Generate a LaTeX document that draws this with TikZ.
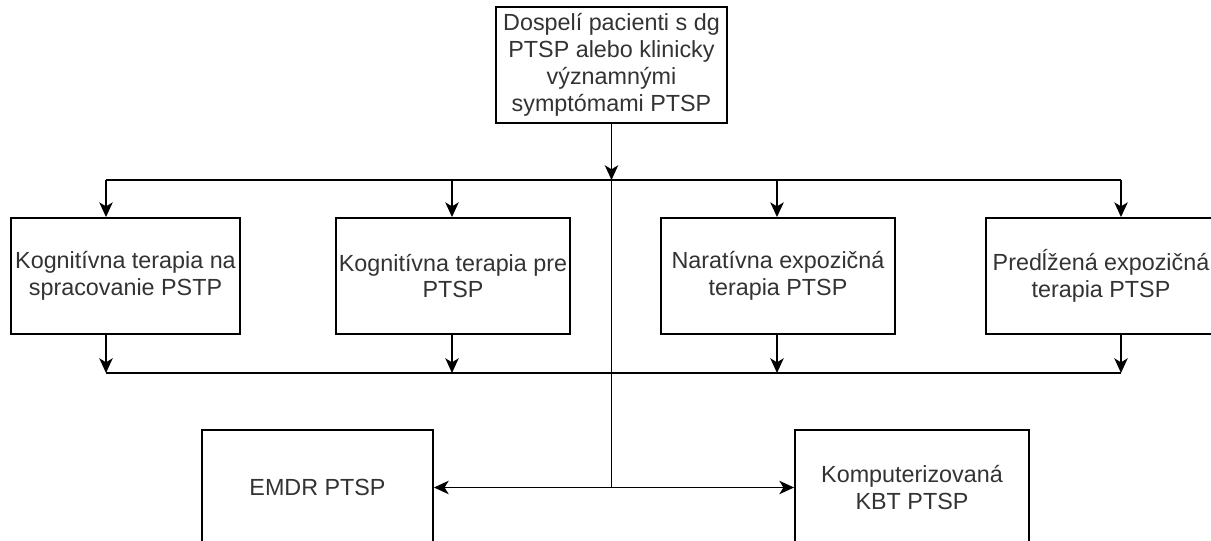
\documentclass[tikz,border=0pt]{standalone}
\usepackage{fontspec}
\setmainfont{Liberation Sans}
\usetikzlibrary{arrows.meta}
\tikzset{
  box/.style={draw=black, line width=1.4pt, fill=white, rectangle, align=center, inner sep=1pt,
    text=black!80, font=\fontsize{17.5}{20.2}\selectfont},
  tip/.tip={Stealth[length=11pt,width=10pt,inset=3pt]},
  arr/.style={line width=1.4pt, -tip},
  dbl/.style={line width=1.4pt, tip-tip},
  ln/.style={line width=1.4pt}
}
\begin{document}
\begin{tikzpicture}[x=0.75pt,y=-0.75pt]
\clip (0,0) rectangle (1211,541);
\fill[white] (0,0) rectangle (1211,541);
% nodes
\node[box, minimum width=173.25pt, minimum height=87pt] (top) at (611.5,65)
  {Dospelí pacienti s dg\\PTSP alebo klinicky\\významnými\\symptómami PTSP};
\node[box, minimum width=171.75pt, minimum height=87pt] (b1) at (125.5,276)
  {Kognitívna terapia na\\spracovanie PSTP};
\node[box, minimum width=175.5pt, minimum height=87pt] (b2) at (453,276)
  {Kognitívna terapia pre\\PTSP};
\node[box, minimum width=175.5pt, minimum height=87pt] (b3) at (778,276)
  {Naratívna expozičná\\terapia PTSP};
\node[box, minimum width=172.5pt, minimum height=87pt] (b4) at (1101,276)
  {Predĺžená expozičná\\terapia PTSP};
\node[box, minimum width=173.25pt, minimum height=86.25pt] (emdr) at (317.5,487.5)
  {EMDR PTSP};
\node[box, minimum width=175.5pt, minimum height=86.25pt] (kbt) at (912,487.5)
  {Komputerizovaná\\KBT PTSP};
% junction coordinates
\coordinate (jt) at (611.5,180);
\coordinate (jb) at (611.5,487.5);
\coordinate (t1) at (106,180);
\coordinate (t2) at (452,180);
\coordinate (t3) at (777,180);
\coordinate (t4) at (1121,180);
\coordinate (u1) at (106,373);
\coordinate (u2) at (452,373);
\coordinate (u3) at (777,373);
\coordinate (u4) at (1121,373);
% connectors
\draw[arr] (top.south) -- (jt);
\draw[ln] (jt) -- (jb);
\draw[ln] (t1) -- (t4);
\draw[arr] (t1) -- (t1 |- b1.north);
\draw[arr] (t2) -- (t2 |- b2.north);
\draw[arr] (t3) -- (t3 |- b3.north);
\draw[arr] (t4) -- (t4 |- b4.north);
\draw[arr] (u1 |- b1.south) -- (u1);
\draw[arr] (u2 |- b2.south) -- (u2);
\draw[arr] (u3 |- b3.south) -- (u3);
\draw[arr] (u4 |- b4.south) -- (u4);
\draw[ln] (u1) -- (u4);
\draw[dbl] (emdr.east) -- (kbt.west);
\end{tikzpicture}
\end{document}
